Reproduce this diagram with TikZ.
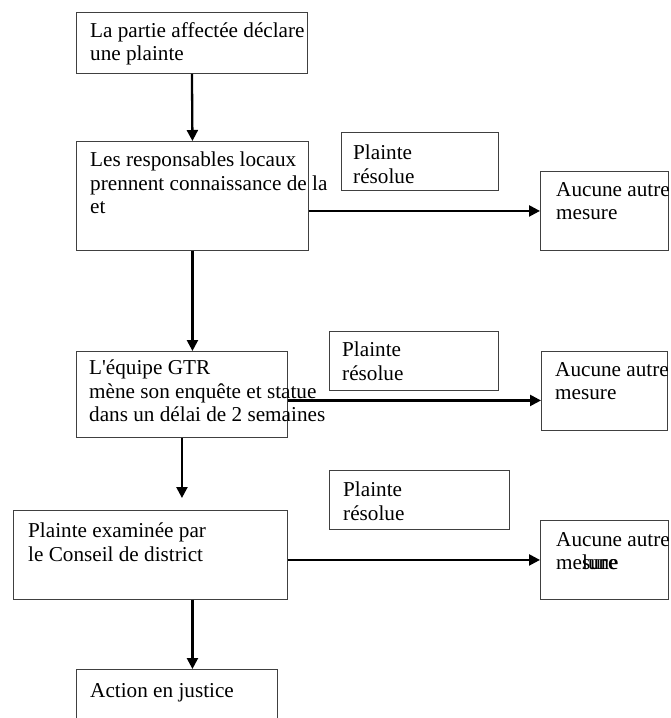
\documentclass[tikz,border=0pt]{standalone}
\usepackage{fontspec}
\setmainfont{Liberation Serif}
\usetikzlibrary{positioning, arrows.meta}

\tikzset{
  boite/.style={draw=black!75, line width=0.9pt, anchor=north west, inner sep=0pt},
  texte/.style={anchor=north west, align=left, inner sep=0pt, font=\fontsize{21.2}{23.5}\selectfont},
  fleche/.style={line width=2.3pt, -{Triangle[length=11pt, width=11pt]}}
}

\begin{document}
\begin{tikzpicture}[x=1pt, y=-1pt]
    \useasboundingbox (0,0) rectangle (671,718);
    \clip (0,0) rectangle (671,718);

    % Colonne principale
    \node[boite, minimum width=231pt, minimum height=61pt] (partie) at (76,12) {};
    \node[texte] (partie-t) at ([shift={(14,10)}]partie.north west) {La partie affectée déclare\\une plainte};

    \node[boite, minimum width=232pt, minimum height=109pt] (resp) at (76,141) {};
    \node[texte] (resp-t) at ([shift={(14,11)}]resp.north west) {Les responsables locaux\\prennent connaissance de la\\et};

    \node[boite, minimum width=211pt, minimum height=86pt] (gtr) at (76,351) {};
    \node[texte] (gtr-t) at ([shift={(13,9)}]gtr.north west) {L\textquotesingle équipe GTR\\mène son enquête et statue\\dans un délai de 2 semaines};

    \node[boite, minimum width=274pt, minimum height=89pt] (conseil) at (13,510) {};
    \node[texte] (conseil-t) at ([shift={(15,13)}]conseil.north west) {Plainte examinée par\\le Conseil de district};

    \node[boite, minimum width=201pt, minimum height=70pt] (action) at (76,669) {};
    \node[texte] (action-t) at ([shift={(14,14)}]action.north west) {Action en justice};

    % Plainte résolue
    \node[boite, minimum width=157pt, minimum height=58pt] (resolue1) at (341,132) {};
    \node[texte] (resolue1-t) at ([shift={(12,13)}]resolue1.north west) {Plainte\\résolue};

    \node[boite, minimum width=169pt, minimum height=59pt] (resolue2) at (329,331) {};
    \node[texte] (resolue2-t) at ([shift={(13,11)}]resolue2.north west) {Plainte\\résolue};

    \node[boite, minimum width=180pt, minimum height=59pt] (resolue3) at (329,470) {};
    \node[texte] (resolue3-t) at ([shift={(14,12)}]resolue3.north west) {Plainte\\résolue};

    % Aucune autre mesure
    \node[boite, minimum width=128pt, minimum height=79pt] (aucune1) at (540,171) {};
    \node[texte] (aucune1-t) at ([shift={(16,11)}]aucune1.north west) {Aucune autre\\mesure};

    \node[boite, minimum width=126pt, minimum height=79pt] (aucune2) at (541,351) {};
    \node[texte] (aucune2-t) at ([shift={(14,11)}]aucune2.north west) {Aucune autre\\mesure};

    \node[boite, minimum width=128pt, minimum height=79pt] (aucune3) at (540,520) {};
    \node[texte] (aucune3-t) at ([shift={(16,12)}]aucune3.north west) {Aucune autre\\me\rlap{sure}lune};

    % Fleches
    \draw[fleche] (partie.south) -- (resp.north);
    \draw[fleche] (resp.south) -- (resp.south |- gtr.north);
    \draw[fleche, shorten >=12pt] (gtr.south) -- (gtr.south |- conseil.north);
    \draw[fleche] (conseil.south -| resp.south) -- (action.north -| resp.south);
    \draw[fleche] (resp.east |- aucune1.west) -- (aucune1.west);
    \draw[fleche] ([yshift=-6pt]gtr.east) -- ([yshift=-6pt]gtr.east -| aucune2.west);
    \draw[fleche] (conseil.east |- aucune3.west) -- (aucune3.west);
\end{tikzpicture}
\end{document}
